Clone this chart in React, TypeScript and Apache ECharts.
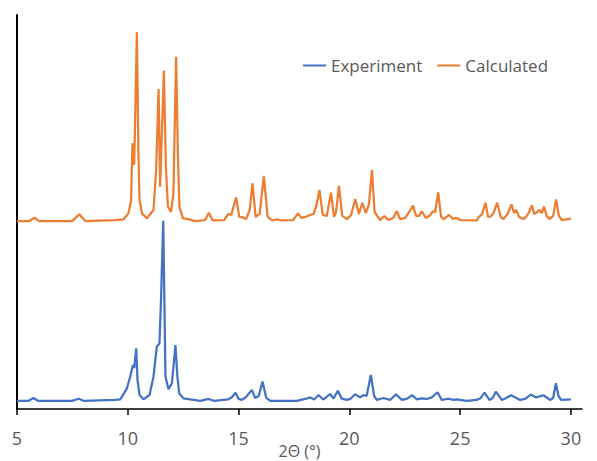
import React, { useEffect, useRef } from "react";
import * as echarts from "echarts";

const xTicks = [5, 10, 15, 20, 25, 30];
const CALC_OFFSET = 914;

const expTheta = [5.0, 5.51, 5.74, 5.96, 7.49, 7.78, 8.03, 9.43, 9.66, 9.96, 10.11, 10.23, 10.29, 10.38, 10.44, 10.53, 10.71, 10.98, 11.16, 11.31, 11.43, 11.5, 11.6, 11.67, 11.7, 11.84, 11.99, 12.09, 12.15, 12.24, 12.32, 12.51, 13.27, 13.64, 13.9, 14.53, 14.71, 14.86, 15.0, 15.15, 15.34, 15.6, 15.75, 15.91, 16.08, 16.25, 16.43, 17.63, 18.01, 18.23, 18.41, 18.61, 18.82, 19.13, 19.29, 19.48, 19.65, 19.89, 20.04, 20.26, 20.49, 20.64, 20.78, 20.97, 21.12, 21.24, 21.54, 21.84, 22.1, 22.37, 22.61, 22.83, 23.05, 23.27, 23.5, 23.72, 23.98, 24.17, 24.47, 24.7, 24.85, 25.3, 25.75, 25.93, 26.1, 26.32, 26.47, 26.61, 26.88, 27.08, 27.3, 27.71, 27.93, 28.19, 28.43, 28.76, 29.06, 29.2, 29.32, 29.44, 29.56, 30.0];
const expIntensity = [41, 41, 56, 41, 41, 52, 41, 46, 49, 105, 164, 223, 208, 308, 147, 71, 49, 71, 164, 316, 333, 553, 956, 401, 164, 100, 130, 249, 325, 164, 80, 54, 41, 51, 41, 49, 61, 83, 51, 46, 61, 97, 56, 66, 139, 56, 41, 41, 51, 59, 48, 71, 48, 76, 53, 93, 53, 46, 51, 75, 59, 71, 66, 173, 66, 46, 56, 46, 74, 46, 53, 70, 49, 54, 51, 59, 85, 46, 52, 46, 49, 41, 46, 56, 83, 46, 56, 88, 46, 56, 70, 46, 51, 73, 59, 70, 46, 56, 131, 66, 46, 49];

const calcTheta = [5.0, 5.55, 5.79, 6.0, 7.49, 7.81, 8.08, 9.43, 9.81, 10.03, 10.15, 10.21, 10.29, 10.41, 10.48, 10.53, 10.64, 10.86, 11.16, 11.28, 11.39, 11.46, 11.63, 11.72, 11.81, 11.95, 12.06, 12.18, 12.26, 12.33, 12.49, 12.74, 13.04, 13.49, 13.66, 13.83, 14.35, 14.54, 14.67, 14.89, 15.03, 15.18, 15.34, 15.5, 15.63, 15.77, 15.95, 16.14, 16.31, 16.52, 16.73, 16.92, 17.46, 17.68, 17.83, 18.01, 18.23, 18.39, 18.52, 18.65, 18.8, 18.98, 19.17, 19.31, 19.4, 19.53, 19.68, 19.89, 20.08, 20.27, 20.43, 20.59, 20.74, 20.88, 21.02, 21.14, 21.39, 21.58, 21.75, 21.98, 22.14, 22.29, 22.52, 22.7, 22.87, 23.01, 23.15, 23.27, 23.45, 23.65, 23.77, 23.87, 24.01, 24.14, 24.25, 24.5, 24.68, 24.82, 25.0, 25.75, 25.83, 25.99, 26.14, 26.26, 26.36, 26.51, 26.67, 26.83, 26.95, 27.14, 27.32, 27.43, 27.53, 27.66, 27.86, 28.01, 28.11, 28.24, 28.34, 28.43, 28.58, 28.68, 28.79, 28.9, 29.03, 29.2, 29.33, 29.46, 29.59, 30.0];
const calcIntensity = [40, 40, 57, 40, 40, 74, 40, 45, 49, 79, 147, 435, 325, 998, 385, 147, 79, 54, 96, 299, 710, 214, 803, 316, 113, 87, 181, 874, 385, 113, 54, 50, 40, 45, 82, 43, 45, 76, 71, 161, 61, 59, 50, 96, 232, 61, 76, 269, 61, 43, 49, 43, 45, 79, 56, 61, 71, 76, 122, 198, 71, 66, 184, 61, 86, 219, 66, 50, 71, 152, 76, 133, 81, 122, 299, 86, 45, 66, 45, 56, 91, 50, 56, 86, 118, 66, 66, 90, 56, 69, 90, 86, 186, 61, 49, 71, 50, 57, 45, 43, 59, 76, 133, 61, 62, 81, 133, 61, 50, 76, 125, 81, 96, 61, 50, 66, 86, 120, 76, 82, 96, 81, 113, 66, 50, 66, 150, 66, 45, 52];

const FONT = "'Open Sans', 'Noto Sans', sans-serif";

export default function App() {
  const ref = useRef<HTMLDivElement>(null);
  useEffect(() => {
    if (!ref.current) return;
    const chart = echarts.init(ref.current, undefined, { renderer: "svg" });
    const expData = expTheta.map((x, i) => [x, expIntensity[i]]);
    const calcData = calcTheta.map((x, i) => [x, calcIntensity[i] + CALC_OFFSET]);
    chart.setOption({
      animation: false,
      backgroundColor: "#ffffff",
      grid: { left: 17, right: 15, top: 15, bottom: 52, containLabel: false, outerBoundsMode: "none" },
      legend: {
        data: ["Experiment", "Calculated"],
        left: 298,
        top: 52,
        itemWidth: 23,
        itemHeight: 2,
        itemGap: 15,
        icon: "rect",
        textStyle: { color: "#595959", fontSize: 17, fontFamily: FONT },
      },
      xAxis: {
        type: "value",
        min: 5,
        max: 30.5,
        interval: 5,
        name: "2Θ (°)",
        nameLocation: "middle",
        nameGap: 34,
        nameMoveOverlap: false,
        nameTextStyle: { color: "#595959", fontSize: 16, fontFamily: FONT, lineHeight: 16 },
        axisLine: { show: true, lineStyle: { color: "#000000", width: 1.5 } },
        axisTick: { show: true, inside: false, length: 6, lineStyle: { color: "#000000", width: 1.5 }, customValues: xTicks },
        axisLabel: { color: "#595959", fontSize: 18, fontFamily: FONT, margin: 20, customValues: xTicks },
        splitLine: { show: false },
      },
      yAxis: {
        type: "value",
        min: 0,
        max: 2000,
        axisLine: { show: true, lineStyle: { color: "#000000", width: 2 } },
        axisTick: { show: false },
        axisLabel: { show: false },
        splitLine: { show: false },
      },
      series: [
        {
          name: "Experiment",
          type: "line",
          data: expData,
          showSymbol: false,
          lineStyle: { color: "#4472C4", width: 2.25 },
          itemStyle: { color: "#4472C4" },
        },
        {
          name: "Calculated",
          type: "line",
          data: calcData,
          showSymbol: false,
          lineStyle: { color: "#ED7D31", width: 2.25 },
          itemStyle: { color: "#ED7D31" },
        },
      ],
    });
    return () => chart.dispose();
  }, []);
  return (
    <div
      ref={ref}
      style={{ position: "fixed", left: 0, top: 0, width: 597, height: 461 }}
    />
  );
}
